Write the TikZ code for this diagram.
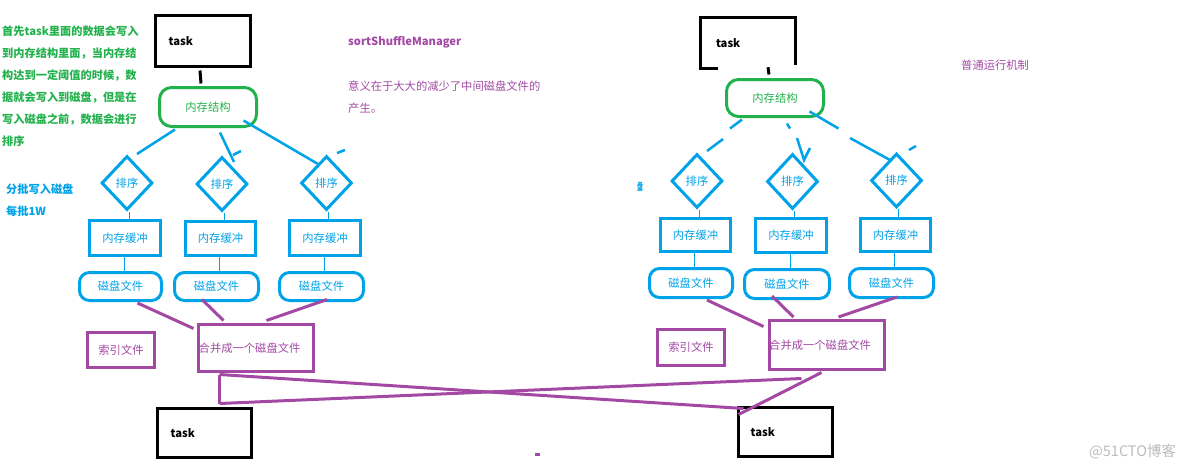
\documentclass[tikz,border=0pt]{standalone}
\usepackage{fontspec}
\newfontfamily\cjk{Noto Sans CJK SC}
\usetikzlibrary{shapes.geometric,calc}
\definecolor{pblue}{HTML}{00A2E8}
\definecolor{pgreen}{HTML}{22B14C}
\definecolor{ppurple}{HTML}{A349A4}
\definecolor{wmgray}{HTML}{BBBBBB}
\begin{document}
\begin{tikzpicture}[x=1pt,y=-1pt,
  font=\cjk\fontsize{11.3}{13}\selectfont,
  bsize/.style 2 args={minimum width=#1pt,minimum height=#2pt,inner sep=0pt},
  taskbox/.style={draw=black,line width=3pt},
  tasktext/.style={anchor=west,inner sep=0pt,xshift=#1pt,font=\cjk\bfseries\fontsize{11.2}{13}\selectfont,text=black},
  membox/.style={draw=pgreen,line width=3pt,rounded corners=12pt,text=pgreen},
  sortbox/.style={draw=pblue,line width=3pt,shape=diamond,text=pblue},
  bufbox/.style={draw=pblue,line width=3pt,text=pblue},
  diskbox/.style={draw=pblue,line width=3pt,rounded corners=10pt,text=pblue},
  mergebox/.style={draw=ppurple,line width=3pt},
  mergetext/.style={anchor=west,inner sep=0pt,xshift=#1pt,text=ppurple},
  idxbox/.style={draw=ppurple,line width=3pt,text=ppurple},
  sketch/.style={draw=pblue,line width=2.5pt},
  thinb/.style={draw=pblue,line width=1pt},
  plink/.style={draw=ppurple,line width=3pt},
  blink/.style={draw=black,line width=3pt}]
\useasboundingbox (0,0) rectangle (1184,467);

% ---------------- left side ----------------
\node[taskbox,bsize={95}{51},label={[tasktext=14.5]west:task}] (tL1) at (203,41) {};
\node[membox,bsize={97}{39}] (memL) at (208,107) {内存结构};
\node[sortbox,bsize={51}{54}] (sL1) at (127,183) {排序};
\node[sortbox,bsize={51}{54}] (sL2) at (222,184) {排序};
\node[sortbox,bsize={51}{54}] (sL3) at (326.5,183) {排序};
\node[bufbox,bsize={71}{35}] (bL1) at (125,238) {内存缓冲};
\node[bufbox,bsize={70}{34}] (bL2) at (220.5,238.5) {内存缓冲};
\node[bufbox,bsize={71}{35}] (bL3) at (325,238) {内存缓冲};
\node[diskbox,bsize={82}{28}] (dL1) at (120.5,286.5) {磁盘文件};
\node[diskbox,bsize={84}{28}] (dL2) at (216.5,286.5) {磁盘文件};
\node[diskbox,bsize={84}{28}] (dL3) at (321.5,286.5) {磁盘文件};
\node[mergebox,bsize={115}{47},label={[mergetext=1.5]west:合并成一个磁盘文件}] (mL) at (256,348) {};
\node[idxbox,bsize={67}{35}] (iL) at (121,350) {索引文件};
\node[taskbox,bsize={94}{49},label={[tasktext=14.5]west:task}] (tL2) at (204.5,433) {};

% ---------------- right side ----------------
\node[bsize={95}{51}] (tR1) at (748,43) {};
\draw[blink] ([shift={(18,0)}]tR1.south west) -- (tR1.south west) -- (tR1.north west)
  -- (tR1.north east) -- ([shift={(0,-4)}]tR1.south east);
\node[tasktext=15.5] (tR1t) at (tR1.west) {task};
\node[membox,bsize={97}{37}] (memR) at (775,98) {内存结构};
\node[sortbox,bsize={51}{54}] (sR1) at (697,181) {排序};
\node[sortbox,bsize={51}{55}] (sR2) at (792.5,181.5) {排序};
\node[sortbox,bsize={51}{54}] (sR3) at (896.5,180.5) {排序};
\node[bufbox,bsize={70}{33}] (bR1) at (695.5,235) {内存缓冲};
\node[bufbox,bsize={71}{34}] (bR2) at (791,235.5) {内存缓冲};
\node[bufbox,bsize={70}{33}] (bR3) at (895.5,235) {内存缓冲};
\node[diskbox,bsize={83}{29}] (dR1) at (691,283) {磁盘文件};
\node[diskbox,bsize={85}{29}] (dR2) at (787,284) {磁盘文件};
\node[diskbox,bsize={84}{29}] (dR3) at (891.5,283) {磁盘文件};
\node[mergebox,bsize={115}{49},label={[mergetext=1]west:合并成一个磁盘文件}] (mR) at (827,345) {};
\node[idxbox,bsize={67}{36}] (iR) at (691,347.5) {索引文件};
\node[taskbox,bsize={94}{49},label={[tasktext=13.5]west:task}] (tR2) at (785.5,432) {};

% ---------------- black ticks ----------------
\draw[blink] ([shift={(-3,2.5)}]tL1.south) -- ([shift={(-7,-2.5)}]memL.north);
\draw[blink] ([shift={(20,-1.5)}]tR1.south) -- ([shift={(-6,-3.5)}]memR.north);

% ---------------- blue sketch strokes (left) ----------------
\draw[sketch] ([shift={(-33,1.5)}]memL.south) -- ([shift={(10,-0.5)}]sL1.north);
\draw[sketch] ([shift={(12,4.5)}]memL.south) -- ([shift={(12,6.5)}]sL2.north);
\draw[sketch] ([shift={(11,-0.5)}]sL2.north) -- ([shift={(19,-4.5)}]sL2.north);
\draw[sketch] ([shift={(-14.5,-7.5)}]memL.south east) -- ([shift={(-8.5,9.5)}]sL3.north);
\draw[sketch] ([shift={(10.5,-1.5)}]sL3.north) -- ([shift={(18.5,-4.5)}]sL3.north);

% ---------------- blue sketch strokes (right) ----------------
\draw[sketch] ([shift={(-33,1.5)}]memR.south) -- ([shift={(-45,10.5)}]memR.south);
\draw[sketch] ([shift={(26,-13.5)}]sR1.north) -- ([shift={(10,-1.5)}]sR1.north);
\draw[sketch] ([shift={(12,5.5)}]memR.south) -- ([shift={(15,10.5)}]memR.south);
\draw[sketch] ([shift={(4.5,-14.5)}]sR2.north) -- ([shift={(11.5,7.5)}]sR2.north)
  -- ([shift={(17.5,-4.5)}]sR2.north);
\draw[sketch] ([shift={(-15.5,-6.5)}]memR.south east) -- ([shift={(13.5,10.5)}]memR.south east);
\draw[sketch] ([shift={(-46.5,-14)}]sR3.north) -- ([shift={(-6.5,8)}]sR3.north);
\draw[sketch] ([shift={(12.5,-2)}]sR3.north) -- ([shift={(19.5,-6)}]sR3.north);

% ---------------- thin blue connectors ----------------
\foreach \s/\b/\d in {sL1/bL1/dL1,sL2/bL2/dL2,sL3/bL3/dL3,sR1/bR1/dR1,sR2/bR2/dR2,sR3/bR3/dR3}{
  \draw[thinb] ([xshift=2pt]\s.south) -- ([xshift=2pt]\s.south |- \b.north);
  \draw[thinb] ([xshift=-1pt]\b.south) -- ([xshift=-1pt]\b.south |- \d.north);
}

% ---------------- purple links ----------------
\draw[plink] ([shift={(17,1)}]dL1.south) -- ([shift={(-3.5,5.5)}]mL.north west);
\draw[plink] ([shift={(-14.5,-2.5)}]dL2.south) -- ([shift={(26.5,-2.5)}]mL.north west);
\draw[plink] ([shift={(5.5,-2.5)}]dL3.south) -- ([shift={(69.5,-2.5)}]mL.north west);
\draw[plink] ([shift={(16,1)}]dR1.south) -- ([shift={(-4.5,7.5)}]mR.north west);
\draw[plink] ([shift={(-15,-4)}]dR2.south) -- ([shift={(25.5,-2)}]mR.north west);
\draw[plink] ([shift={(5.5,-2)}]dR3.south) -- ([shift={(70.5,-2)}]mR.north west);
\draw[plink] ([shift={(22.5,1.5)}]mL.south west) -- ([shift={(6.5,2.5)}]tR2.north west);
\draw[plink] ([shift={(63.5,-3.5)}]tL2.north west) -- ([shift={(33.5,7.5)}]mR.south west);
\draw[plink] ([shift={(22.5,1.5)}]mL.south west) -- ([shift={(63.5,-3.5)}]tL2.north west);
\draw[plink] ([shift={(53.5,1.5)}]mR.south west) -- ([shift={(1.5,8.5)}]tR2.north west);
\fill[ppurple] (535,453) rectangle (540,455.5);

% ---------------- free texts ----------------
\node[anchor=north west,inner sep=0pt,align=left,text=pgreen,
  font=\cjk\bfseries\fontsize{11.2}{22}\selectfont] (note) at (2,25.5)
  {首先task里面的数据会写入\\到内存结构里面，当内存结\\构达到一定阈值的时候，数\\据就会写入到磁盘，但是在\\写入磁盘之前，数据会进行\\排序};
\node[anchor=west,inner sep=0pt,text=pblue,font=\cjk\bfseries\fontsize{11.2}{13}\selectfont] (batch1) at (6,189.5) {分批写入磁盘};
\node[anchor=west,inner sep=0pt,text=pblue,font=\cjk\bfseries\fontsize{11.2}{13}\selectfont] (batch2) at (6,211.5) {每批1W};
\node[anchor=west,inner sep=0pt,text=ppurple,font=\cjk\bfseries\fontsize{11.2}{13}\selectfont] (ssm) at (348,42) {sortShuffleManager};
\node[anchor=west,inner sep=0pt,text=ppurple] (mean1) at (348,86) {意义在于大大的减少了中间磁盘文件的};
\node[anchor=west,inner sep=0pt,text=ppurple] (mean2) at (348,108) {产生。};
\node[anchor=west,inner sep=0pt,text=ppurple] (normal) at (961,65) {普通运行机制};
\node[inner sep=0pt,text=pblue,font=\cjk\bfseries\fontsize{10}{11}\selectfont,xscale=0.6] (pan) at (640,187) {盘};
\node[anchor=west,inner sep=0pt,text=wmgray,font=\cjk\fontsize{14.5}{16}\selectfont] (wm) at (1089,452) {@51CTO博客};
\end{tikzpicture}
\end{document}
